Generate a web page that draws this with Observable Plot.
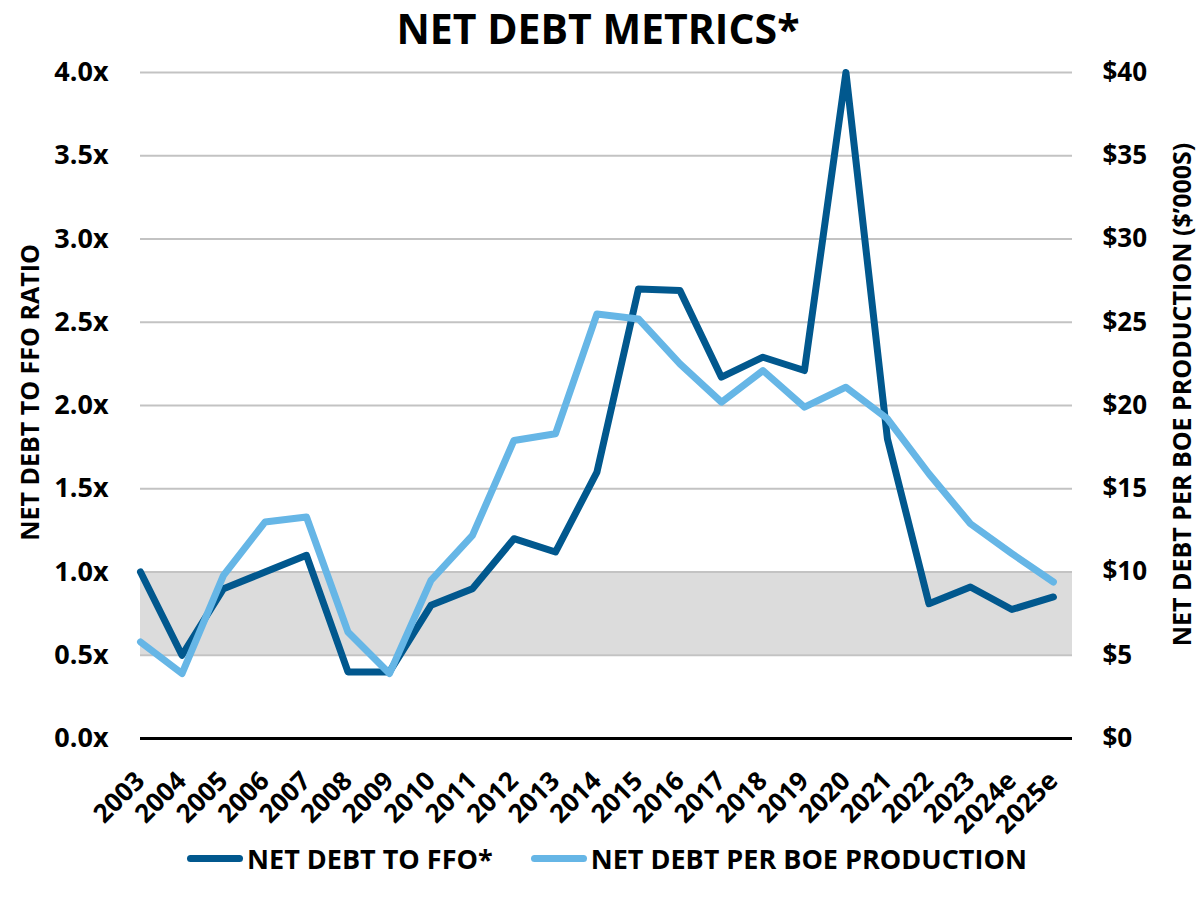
<!DOCTYPE html>
<html>
<head>
<meta charset="utf-8">
<script src="https://cdn.jsdelivr.net/npm/d3@7"></script>
<script src="https://cdn.jsdelivr.net/npm/@observablehq/plot@0.6"></script>
<style>
  body { margin: 0; background: #fff; font-family: "Open Sans", Lato, sans-serif; }
  #title { height: 50px; line-height: 56px; text-align: center; font-weight: 700; font-size: 41px; color: #000; }
  #chart svg { display: block; }
  #legend { display: flex; justify-content: center; align-items: center; font-weight: 700; font-size: 27px; margin-top: -10px; color: #000; transform: translateX(9px); }
  .item { display: flex; align-items: center; margin: 0 19px; }
  .sw { width: 56px; height: 7px; border-radius: 4px; margin-right: 4px; }
</style>
</head>
<body>
<div id="title">NET DEBT METRICS*</div>
<div id="chart"></div>
<div id="legend"></div>
<script>
const years = ["2003","2004","2005","2006","2007","2008","2009","2010","2011","2012","2013","2014","2015","2016","2017","2018","2019","2020","2021","2022","2023","2024e","2025e"];
const netDebtToFFO = [1.0,0.5,0.9,1.0,1.1,0.4,0.4,0.8,0.9,1.2,1.12,1.6,2.7,2.69,2.17,2.29,2.21,4.0,1.8,0.81,0.91,0.775,0.85];
const netDebtPerBoe = [5.8,3.9,9.8,13.0,13.3,6.4,3.9,9.5,12.2,17.9,18.3,25.5,25.2,22.5,20.2,22.1,19.9,21.1,19.2,15.9,12.9,11.1,9.4];
const leftTicks = [0,0.5,1,1.5,2,2.5,3,3.5,4];
const rightTicks = [0,5,10,15,20,25,30,35,40];
const band = [0.5, 1.0];
const seriesNames = ["NET DEBT TO FFO*", "NET DEBT PER BOE PRODUCTION"];
const axisTitles = ["NET DEBT TO FFO RATIO", "NET DEBT PER BOE PRODUCTION ($’000S)"];
const colors = ["#01588e", "#66b6e6"];

const rows = years.map((y, i) => ({i, year: y, ffo: netDebtToFFO[i], boe: netDebtPerBoe[i] / 10}));
const xMax = years.length - 1 + 0.46;
const font = "'Open Sans', Lato, sans-serif";

const plot = Plot.plot({
  width: 1196,
  height: 800,
  marginLeft: 140,
  marginRight: 124,
  marginTop: 22,
  marginBottom: 112,
  style: {fontFamily: font, fontWeight: "700", fontSize: "24px", color: "#000", background: "#fff"},
  x: {type: "linear", domain: [0, xMax]},
  y: {domain: [0, 4]},
  marks: [
    Plot.rect([band], {x1: () => 0, x2: () => xMax, y1: d => d[0], y2: d => d[1], fill: "#dcdcdc"}),
    Plot.ruleY(leftTicks.filter(d => d > 0), {stroke: "#c3c3c3", strokeWidth: 2}),
    Plot.ruleY([0], {stroke: "#000", strokeWidth: 3}),
    Plot.axisY({anchor: "left", ticks: leftTicks, tickFormat: d => d.toFixed(1) + "x", tickSize: 0, tickPadding: 32, fontSize: 27, label: null}),
    Plot.axisY({anchor: "right", ticks: rightTicks.map(d => d / 10), tickFormat: d => "$" + Math.round(d * 10), tickSize: 0, tickPadding: 30, fontSize: 26, label: null}),
    Plot.axisX({ticks: years.map((d, i) => i), tickFormat: i => years[i], tickRotate: -45, tickSize: 0, tickPadding: 38, label: null, fontSize: 26}),
    Plot.text([axisTitles[0]], {text: d => d, frameAnchor: "left", dx: -110, dy: -13, rotate: -90, textAnchor: "middle", lineAnchor: "middle", fontSize: 25, fontWeight: 700}),
    Plot.text([axisTitles[1]], {text: d => d, frameAnchor: "right", dx: 110, dy: -11, rotate: -90, textAnchor: "middle", lineAnchor: "middle", fontSize: 25, fontWeight: 700}),
    Plot.line(rows, {x: "i", y: "ffo", stroke: colors[0], strokeWidth: 7, strokeLinejoin: "round", strokeLinecap: "round"}),
    Plot.line(rows, {x: "i", y: "boe", stroke: colors[1], strokeWidth: 7, strokeLinejoin: "round", strokeLinecap: "round"})
  ]
});
document.getElementById("chart").appendChild(plot);

const legend = document.getElementById("legend");
seriesNames.forEach((n, k) => {
  const it = document.createElement("div");
  it.className = "item";
  it.innerHTML = `<div class="sw" style="background:${colors[k]}"></div><span>${n}</span>`;
  legend.appendChild(it);
});
</script>
</body>
</html>
